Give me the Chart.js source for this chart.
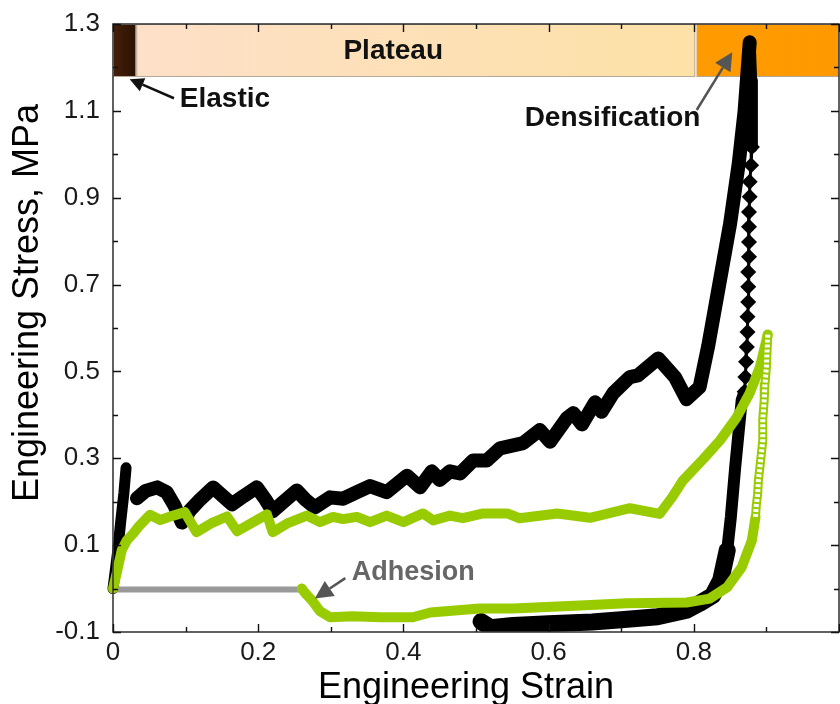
<!DOCTYPE html>
<html>
<head>
<meta charset="utf-8">
<script src="https://cdn.jsdelivr.net/npm/chart.js@4/dist/chart.umd.min.js"></script>
<style>
  html, body { margin: 0; padding: 0; background: #fff; }
</style>
</head>
<body>
<canvas id="chart" width="840" height="704"></canvas>
<script>
/* global Chart */
// engineering strain (x) / engineering stress in MPa (y)

// black: elastic rise, then plateau + densification loading
const elasticX = [0.0, 0.006, 0.011, 0.015, 0.018];
const elasticY = [0.0, 0.08, 0.16, 0.22, 0.278];

const loadX = [0.033, 0.045, 0.061, 0.074, 0.085, 0.095, 0.106, 0.12, 0.138, 0.15, 0.164, 0.18, 0.198,
  0.21, 0.22, 0.235, 0.253, 0.265, 0.278, 0.299, 0.317, 0.336, 0.354, 0.377, 0.405, 0.423, 0.439,
  0.45, 0.464, 0.478, 0.496, 0.515, 0.533, 0.565, 0.588, 0.602, 0.625, 0.634, 0.646, 0.664, 0.673,
  0.689, 0.712, 0.723, 0.751, 0.774, 0.79, 0.808, 0.82, 0.835, 0.85, 0.862, 0.87, 0.877];
const loadY = [0.208, 0.225, 0.233, 0.222, 0.19, 0.152, 0.18, 0.205, 0.233, 0.215, 0.194, 0.213, 0.233,
  0.205, 0.178, 0.2, 0.226, 0.205, 0.187, 0.21, 0.207, 0.222, 0.236, 0.222, 0.26, 0.233, 0.27,
  0.25, 0.27, 0.265, 0.295, 0.295, 0.323, 0.335, 0.365, 0.338, 0.392, 0.404, 0.378, 0.429, 0.407,
  0.45, 0.487, 0.491, 0.53, 0.487, 0.436, 0.464, 0.56, 0.7, 0.84, 0.98, 1.1, 1.258];

// black unloading: dense top, single diamonds, dense bottom
const unloadTopX = [0.877, 0.879, 0.88, 0.88];
const unloadTopY = [1.258, 1.17, 1.08, 1.017];
const unloadMidX = [0.88, 0.879, 0.877, 0.877, 0.876, 0.876, 0.876, 0.876, 0.875, 0.875, 0.875,
  0.874, 0.874, 0.873, 0.872, 0.871, 0.87];
const unloadMidY = [1.017, 0.975, 0.937, 0.902, 0.867, 0.833, 0.798, 0.764, 0.729, 0.695, 0.66,
  0.626, 0.591, 0.556, 0.522, 0.487, 0.453];
const unloadLowX = [0.87, 0.866, 0.857, 0.851, 0.846];
const unloadLowY = [0.453, 0.434, 0.279, 0.164, 0.088];
const unloadEndX = [0.846, 0.837, 0.826, 0.808, 0.79, 0.75, 0.7, 0.66, 0.6, 0.551, 0.52, 0.507];
const unloadEndY = [0.088, 0.019, -0.016, -0.034, -0.05, -0.065, -0.072, -0.077, -0.081,
  -0.085, -0.09, -0.076];

// green: loading, hollow-circle unloading, solid unloading
const gLoadX = [0.0, 0.005, 0.012, 0.019, 0.028, 0.037, 0.051, 0.065, 0.083, 0.099, 0.108, 0.115,
  0.135, 0.157, 0.171, 0.19, 0.212, 0.22, 0.24, 0.267, 0.285, 0.303, 0.317, 0.336, 0.354, 0.377,
  0.4, 0.427, 0.441, 0.464, 0.482, 0.51, 0.543, 0.56, 0.612, 0.657, 0.712, 0.753, 0.77, 0.785,
  0.813, 0.836, 0.859, 0.877, 0.891, 0.902];
const gLoadY = [0.0, 0.035, 0.088, 0.111, 0.127, 0.146, 0.17, 0.158, 0.168, 0.176, 0.15, 0.13,
  0.15, 0.166, 0.132, 0.15, 0.171, 0.13, 0.15, 0.168, 0.153, 0.165, 0.16, 0.165, 0.153, 0.168,
  0.153, 0.173, 0.157, 0.168, 0.162, 0.173, 0.173, 0.162, 0.173, 0.163, 0.185, 0.172, 0.21, 0.249,
  0.298, 0.341, 0.394, 0.45, 0.51, 0.585];
const gHollowX = [0.902, 0.901, 0.9, 0.898, 0.897, 0.895, 0.895, 0.893, 0.891, 0.889, 0.888, 0.886, 0.885];
const gHollowY = [0.585, 0.55, 0.51, 0.47, 0.434, 0.39, 0.341, 0.31, 0.279, 0.25, 0.219, 0.19, 0.165];
const gUnloadX = [0.885, 0.88, 0.866, 0.846, 0.822, 0.79, 0.708, 0.643, 0.551, 0.505, 0.437, 0.413,
  0.368, 0.33, 0.299, 0.285, 0.274, 0.264, 0.26];
const gUnloadY = [0.165, 0.111, 0.049, 0.003, -0.023, -0.032, -0.034, -0.039, -0.046, -0.046,
  -0.055, -0.066, -0.066, -0.064, -0.066, -0.052, -0.027, -0.009, 0.0];

// gray: adhesion (zero stress) segment
const adhesionX = [0.0, 0.26];
const adhesionY = [-0.002, -0.002];

// deformation regions drawn as a band along the top
const bandStart = [0.0, 0.032, 0.804];
const bandEnd = [0.032, 0.802, 1.0];
const bandTop = 1.3;
const bandBottom = 1.178;
const bandFrom = ["#45200a", "#fde0c8", "#ff9a00"];
const bandTo = ["#2a1100", "#fde1a6", "#ff9900"];

const FONT = "'Liberation Sans', Arial, sans-serif";
const GREEN = "#99cc00";

const pts = (xs, ys) => xs.map((x, i) => ({ x: x, y: ys[i] }));

function arrow(ctx, x0, y0, x1, y1, color, head, wide) {
  const a = Math.atan2(y1 - y0, x1 - x0);
  const bx = x1 - head * Math.cos(a), by = y1 - head * Math.sin(a);
  ctx.save();
  ctx.strokeStyle = color;
  ctx.fillStyle = color;
  ctx.lineWidth = 2.5;
  ctx.beginPath();
  ctx.moveTo(x0, y0);
  ctx.lineTo(bx, by);
  ctx.stroke();
  ctx.beginPath();
  ctx.moveTo(x1, y1);
  ctx.lineTo(bx + wide * Math.sin(a), by - wide * Math.cos(a));
  ctx.lineTo(bx - wide * Math.sin(a), by + wide * Math.cos(a));
  ctx.closePath();
  ctx.fill();
  ctx.restore();
}

const regions = {
  id: "regions",
  beforeDatasetsDraw(chart) {
    const { ctx, scales: { x, y } } = chart;
    const top = y.getPixelForValue(bandTop);
    const bottom = y.getPixelForValue(bandBottom);
    ctx.save();
    bandStart.forEach((s, i) => {
      const x0 = x.getPixelForValue(s);
      const x1 = x.getPixelForValue(bandEnd[i]);
      const g = ctx.createLinearGradient(x0, 0, x1, 0);
      g.addColorStop(0, bandFrom[i]);
      g.addColorStop(1, bandTo[i]);
      ctx.fillStyle = g;
      ctx.fillRect(x0, top, x1 - x0, bottom - top);
      ctx.strokeStyle = "#b5a999";
      ctx.lineWidth = 1;
      ctx.strokeRect(x0 + 0.5, top + 0.5, x1 - x0 - 1, bottom - top - 1);
    });
    ctx.fillStyle = "#111";
    ctx.font = "bold 28px " + FONT;
    ctx.textAlign = "center";
    ctx.textBaseline = "middle";
    ctx.fillText("Plateau", x.getPixelForValue(0.386), y.getPixelForValue(1.237));
    ctx.restore();
  },
  afterDatasetsDraw(chart) {
    const { ctx, scales: { x, y } } = chart;
    ctx.save();
    ctx.textAlign = "left";
    ctx.textBaseline = "middle";
    ctx.font = "bold 28px " + FONT;
    ctx.fillStyle = "#111";
    ctx.fillText("Elastic", x.getPixelForValue(0.092), y.getPixelForValue(1.127));
    ctx.fillText("Densification", x.getPixelForValue(0.567), y.getPixelForValue(1.083));
    ctx.font = "bold 27px " + FONT;
    ctx.fillStyle = "#666";
    ctx.fillText("Adhesion", x.getPixelForValue(0.329), y.getPixelForValue(0.037));
    ctx.restore();
    arrow(ctx, x.getPixelForValue(0.084), y.getPixelForValue(1.129),
      x.getPixelForValue(0.023), y.getPixelForValue(1.173), "#111", 14, 7);
    arrow(ctx, x.getPixelForValue(0.804), y.getPixelForValue(1.102),
      x.getPixelForValue(0.853), y.getPixelForValue(1.235), "#555", 18, 9);
    arrow(ctx, x.getPixelForValue(0.32), y.getPixelForValue(0.024),
      x.getPixelForValue(0.278), y.getPixelForValue(-0.023), "#555", 18, 9);
  },
  afterDraw(chart) {
    // frame with inward tick marks on all four sides
    const { ctx, chartArea: a, scales: { x, y } } = chart;
    ctx.save();
    ctx.strokeStyle = "#3a3a3a";
    ctx.lineWidth = 1.6;
    ctx.strokeRect(a.left, a.top, a.right - a.left, a.bottom - a.top);
    ctx.strokeStyle = "#111";
    ctx.lineWidth = 1.4;
    ctx.beginPath();
    y.ticks.forEach((t) => {
      const py = Math.round(y.getPixelForValue(t.value)) + 0.5;
      const len = Math.abs(Math.round(t.value * 10)) % 2 === 1 ? 8 : 5;
      ctx.moveTo(a.left, py);
      ctx.lineTo(a.left + len, py);
      ctx.moveTo(a.right, py);
      ctx.lineTo(a.right - len, py);
    });
    x.ticks.forEach((t) => {
      const px = Math.round(x.getPixelForValue(t.value)) + 0.5;
      const len = Math.round(t.value * 10) % 2 === 0 ? 8 : 5;
      ctx.moveTo(px, a.bottom);
      ctx.lineTo(px, a.bottom - len);
      ctx.moveTo(px, a.top);
      ctx.lineTo(px, a.top + len);
    });
    ctx.stroke();
    ctx.restore();
  },
};

const lineSet = (data, color, width, extra) => Object.assign({
  data: data,
  showLine: true,
  borderColor: color,
  backgroundColor: color,
  borderWidth: width,
  borderJoinStyle: "round",
  borderCapStyle: "round",
  pointRadius: 0,
  tension: 0,
  clip: { left: 8, top: 0, right: 0, bottom: 0 },
}, extra || {});

const datasets = [
  lineSet(pts(gHollowX, gHollowY), "#ffffff", 5, { borderDash: [3, 2], borderCapStyle: "butt" }),
  lineSet(pts(gHollowX, gHollowY), GREEN, 9),
  lineSet(pts(gLoadX, gLoadY), GREEN, 10),
  lineSet(pts(gUnloadX, gUnloadY), GREEN, 10),
  lineSet(pts(adhesionX, adhesionY), "#999999", 6, { borderCapStyle: "butt" }),
  lineSet(pts(unloadMidX, unloadMidY), "#000000", 3, {
    pointRadius: 8, pointStyle: "rectRot", pointBorderWidth: 0,
  }),
  lineSet(pts(unloadTopX, unloadTopY), "#000000", 12),
  lineSet(pts(unloadLowX, unloadLowY), "#000000", 12),
  lineSet(pts(unloadEndX, unloadEndY), "#000000", 17),
  lineSet(pts(loadX, loadY), "#000000", 14),
  lineSet(pts(elasticX, elasticY), "#000000", 11),
];

new Chart(document.getElementById("chart"), {
  type: "scatter",
  data: { datasets: datasets },
  options: {
    responsive: false,
    animation: false,
    layout: { autoPadding: false, padding: { top: 24, right: 1, left: 0, bottom: 0 } },
    plugins: { legend: { display: false }, tooltip: { enabled: false } },
    scales: {
      x: {
        type: "linear",
        min: 0,
        max: 1,
        afterFit: (s) => { s.height = 72; s.paddingLeft = 0; s.paddingRight = 0; },
        grid: { display: false, drawTicks: false },
        border: { display: false },
        ticks: {
          stepSize: 0.1,
          autoSkip: false,
          maxRotation: 0,
          padding: 0,
          color: "#1a1a1a",
          // tall line box pushes the labels down instead of tick padding
          font: { family: FONT, size: 26, lineHeight: 1.58 },
          callback: (v) => {
            // the "1" at the far right falls off the cropped figure
            const k = Math.round(v * 10);
            if (k % 2 !== 0 || k === 10) return "";
            return k === 0 ? "0" : (k / 10).toFixed(1);
          },
        },
        title: {
          display: true,
          text: "Engineering Strain  ",
          color: "#000",
          font: { family: FONT, size: 36, lineHeight: 1 },
          padding: { top: 0, bottom: -2 },
        },
      },
      y: {
        type: "linear",
        min: -0.1,
        max: 1.3,
        afterFit: (s) => { s.width = 113; s.paddingTop = 0; s.paddingBottom = 0; },
        grid: { display: false, drawTicks: false },
        border: { display: false },
        ticks: {
          stepSize: 0.1,
          autoSkip: false,
          padding: 13,
          color: "#1a1a1a",
          font: { family: FONT, size: 26, lineHeight: 1.2 },
          callback: (v) => {
            const k = Math.round(v * 10);
            return Math.abs(k) % 2 === 1 ? (k / 10).toFixed(1) : "";
          },
        },
        title: {
          display: true,
          text: "     Engineering Stress, MPa",
          color: "#000",
          font: { family: FONT, size: 36, lineHeight: 1 },
          padding: { top: 10, bottom: 0 },
        },
      },
    },
  },
  plugins: [regions],
});
</script>
</body>
</html>
